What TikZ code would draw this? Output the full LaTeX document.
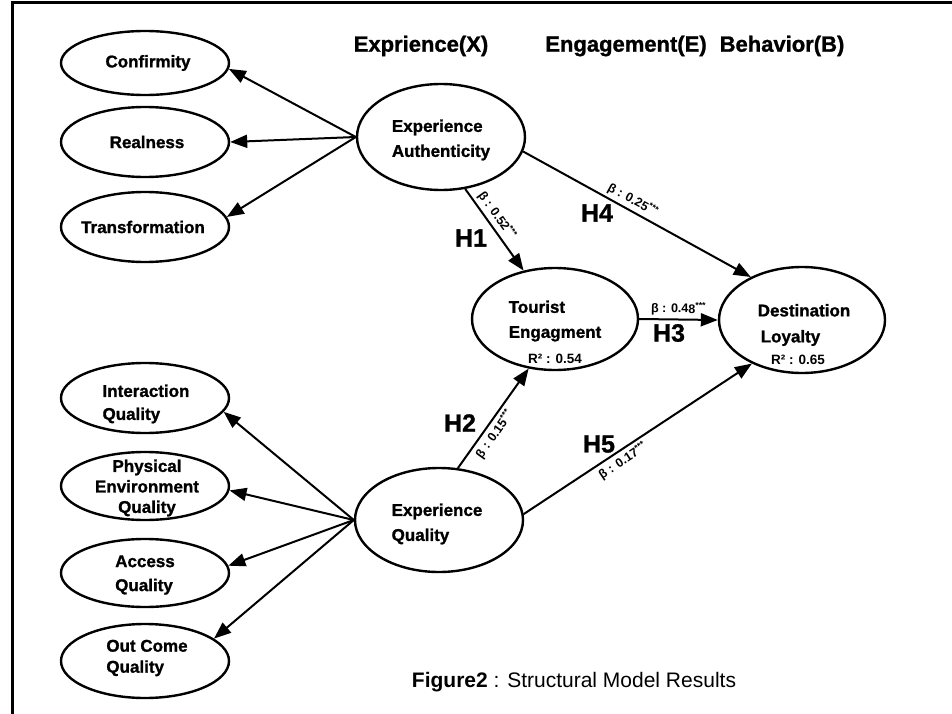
\documentclass[tikz,border=0pt]{standalone}
\usepackage{fontspec}
\setmainfont{Liberation Sans}
\newfontfamily\hv{Liberation Sans Bold}[FakeBold=1.2]
\usetikzlibrary{shapes.geometric,arrows.meta}
\begin{document}
\begin{tikzpicture}[x=1pt,y=1pt,
 lat/.style={ellipse,draw,line width=2.4pt,inner sep=0pt,minimum width=168pt,minimum height=106pt},
 ind/.style={ellipse,draw,line width=2.4pt,inner sep=0pt,minimum width=168pt,minimum height=70pt},
 txt/.style={font=\fontsize{17}{24}\selectfont\hv,align=left,inner sep=0pt},
 arr/.style={line width=2pt,-{Triangle[length=17pt,width=13pt]}},
 beta/.style={font=\fontsize{12.5}{12.5}\selectfont\bfseries,sloped,inner sep=3pt},
 hyp/.style={font=\fontsize{25}{25}\selectfont\hv,inner sep=0pt},
 head/.style={font=\fontsize{22}{22}\selectfont\hv,inner sep=0pt},
 rsq/.style={font=\fontsize{13.5}{13.5}\selectfont\bfseries,inner sep=0pt},
]
\useasboundingbox (0,0) rectangle (952,-714);
\fill[white] (0,0) rectangle (952,-714);
\draw[line width=3pt] (12,-714) -- (12,-3) -- (952,-3);

% headings
\node[head] (hx) at (421,-46) {Exprience(X)};
\node[head] (he) at (626,-46) {Engagement(E)};
\node[head] (hb) at (782,-46) {Behavior(B)};

% latent ellipses
\node[lat] (EA) at (441,-137) {};
\node[txt,font=\fontsize{17}{25}\selectfont\hv] (EAt) at (441,-140) {Experience\\Authenticity};
\node[lat,minimum width=166pt,minimum height=102pt] (TE) at (555,-319) {};
\node[txt,font=\fontsize{17}{25}\selectfont\hv] (TEt) at (555,-321) {Tourist\\Engagment};
\node[rsq] (TEr) at (555,-359) {R² : 0.54};
\node[lat,minimum width=166pt] (DL) at (802,-320) {};
\node[txt,font=\fontsize{17}{26}\selectfont\hv] (DLt) at (804,-325) {Destination\\\hspace*{3pt}Loyalty};
\node[rsq] (DLr) at (798,-360) {R² : 0.65};
\node[lat,minimum height=104pt] (EQ) at (439,-520) {};
\node[txt,font=\fontsize{17}{25}\selectfont\hv] (EQt) at (437,-524) {Experience\\Quality};

% indicators
\node[ind,minimum height=64pt] (conf) at (145,-63) {};
\node[txt] (conft) at (148,-63) {Confirmity};
\node[ind] (real) at (145,-142) {};
\node[txt] (realt) at (147,-142) {Realness};
\node[ind] (trans) at (145,-227) {};
\node[txt] (transt) at (143,-227) {Transformation};
\node[ind] (inter) at (145,-398) {};
\node[txt,font=\fontsize{17}{23}\selectfont\hv] (intert) at (146,-404) {Interaction\\Quality};
\node[ind,minimum height=68pt] (phys) at (145,-486) {};
\node[txt,align=center,font=\fontsize{17}{20.5}\selectfont\hv] (physt) at (147,-488) {Physical\\Environment\\Quality};
\node[ind,minimum height=68pt] (acc) at (145,-573) {};
\node[txt] (acct) at (145,-575) {Access\\Quality};
\node[ind,minimum height=74pt] (out) at (145,-661) {};
\node[txt,font=\fontsize{17}{21}\selectfont\hv] (outt) at (147,-658) {Out Come\\Quality};

% measurement arrows
\draw[arr] (EA.west) -- (conf.-4);
\draw[arr] (EA.west) -- (real.east);
\draw[arr] (EA.west) -- (trans.7);
\draw[arr] (EQ.west) -- (inter.-10);
\draw[arr] (EQ.west) -- (phys.-3);
\draw[arr] (EQ.west) -- (acc.5);
\draw[arr] (EQ.west) -- (out.18);

% structural paths
\draw[arr] (EA.-65) -- node[beta,above,pos=0.4] {β : 0.52\textsuperscript{***}} (TE.123);
\draw[arr] (EA.-10) -- node[beta,above,pos=0.46] {β : 0.25\textsuperscript{***}} (DL.140);
\draw[arr] (TE.east) -- node[beta,above,pos=0.5] {β : 0.48\textsuperscript{***}} (DL.west);
\draw[arr] (EQ.70) -- node[beta,below,pos=0.4] {β : 0.15\textsuperscript{***}} (TE.-118);
\draw[arr] (EQ.4) -- node[beta,below,pos=0.41] {β : 0.17\textsuperscript{***}} (DL.-139);

% hypothesis labels
\node[hyp] (h1) at (471,-238) {H1};
\node[hyp] (h4) at (597,-213) {H4};
\node[hyp] (h3) at (669,-333) {H3};
\node[hyp] (h2) at (460,-423) {H2};
\node[hyp] (h5) at (599,-444) {H5};

% caption
\node[font=\fontsize{21}{21}\selectfont,inner sep=0pt] (cap) at (574,-682) {\textbf{Figure2} : Structural Model Results};
\end{tikzpicture}
\end{document}
